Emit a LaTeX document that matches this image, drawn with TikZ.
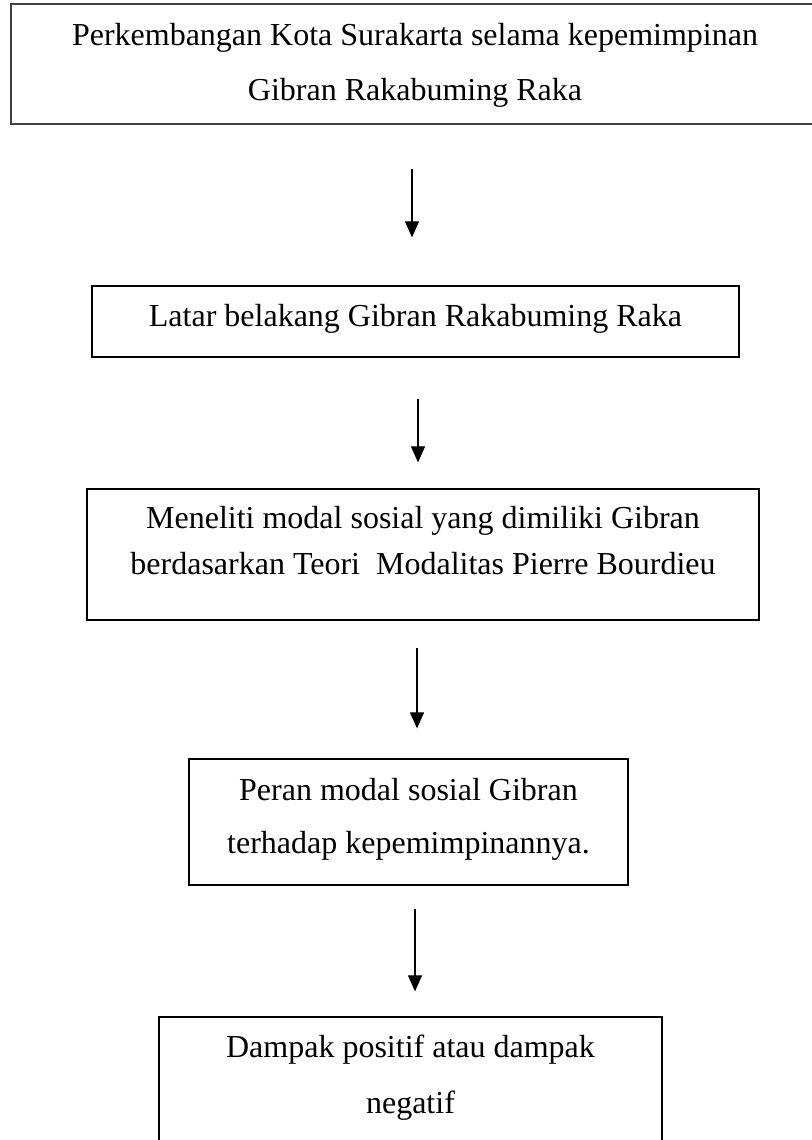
\documentclass[tikz,border=0pt]{standalone}
\usepackage{fontspec}
\setmainfont{Liberation Serif}
\usepackage{tikz}
\usetikzlibrary{arrows.meta}

\begin{document}
\begin{tikzpicture}[x=1pt, y=-1pt,
    stagebox/.style={draw, line width=1.3pt, align=center, inner sep=0pt},
    flowarrow/.style={-{Triangle[length=16pt, width=14pt]}, line width=1.1pt}]
    \useasboundingbox (0,0) rectangle (811,1140);
    \node[stagebox, draw=black!75, minimum width=808pt, minimum height=120pt, text height=79pt, text depth=7pt, font=\fontsize{32}{55}\selectfont] (perkembangan) at (415,64) {Perkembangan Kota Surakarta selama kepemimpinan\\Gibran Rakabuming Raka};
    \node[stagebox, minimum width=647pt, minimum height=71pt, text height=22pt, text depth=13pt, font=\fontsize{32}{46}\selectfont] (latar) at (415.5,321.5) {Latar belakang Gibran Rakabuming Raka};
    \node[stagebox, minimum width=672pt, minimum height=131pt, text height=68pt, text depth=29pt, font=\fontsize{32}{46}\selectfont] (modal) at (423,554.5) {Meneliti modal sosial yang dimiliki Gibran\\berdasarkan Teori\ \ Modalitas Pierre Bourdieu};
    \node[stagebox, minimum width=439pt, minimum height=126pt, text height=75pt, text depth=13pt, font=\fontsize{32}{53}\selectfont] (peran) at (408.5,822) {Peran modal sosial Gibran\\terhadap kepemimpinannya.};
    \node[stagebox, minimum width=503pt, minimum height=126pt, text height=78pt, text depth=12pt, font=\fontsize{32}{56}\selectfont] (dampak) at (410.5,1080) {Dampak positif atau dampak\\negatif};
    \draw[flowarrow, shorten <=44pt, shorten >=48pt] ([xshift=-3pt]perkembangan.south) -- ([xshift=-3.5pt]latar.north);
    \draw[flowarrow, shorten <=41pt, shorten >=26pt] ([xshift=2.5pt]latar.south) -- ([xshift=-5pt]modal.north);
    \draw[flowarrow, shorten <=27pt, shorten >=30pt] ([xshift=-6pt]modal.south) -- ([xshift=8.5pt]peran.north);
    \draw[flowarrow, shorten <=23pt, shorten >=25pt] ([xshift=6.5pt]peran.south) -- ([xshift=4.5pt]dampak.north);
\end{tikzpicture}
\end{document}
